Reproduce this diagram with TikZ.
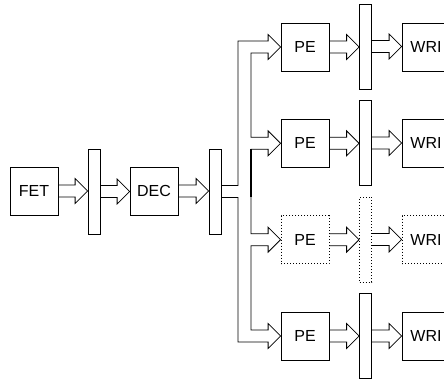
\documentclass[tikz,border=0pt]{standalone}
\usepackage{fontspec}
\setmainfont{Liberation Sans}
\usetikzlibrary{calc}
\tikzset{
  blk/.style={draw=black, line width=0.8pt, minimum width=48pt, minimum height=48pt, inner sep=0pt, font=\fontsize{16}{19}\selectfont},
  reg/.style={draw=black, line width=0.8pt, minimum width=12pt, minimum height=85pt, inner sep=0pt},
  ghost/.style={dash pattern=on 1pt off 2pt},
  fat/.style={draw=black, line width=0.8pt, line join=miter},
}
\newcommand{\fatarr}[2]{%
  \draw[fat] let \p1=(#1.east), \p2=(#2.west) in
    (\x1,\y1+6) -- (\x2-12.5,\y1+6) -- (\x2-12.5,\y1+12.5) -- (\x2,\y1)
    -- (\x2-12.5,\y1-12.5) -- (\x2-12.5,\y1-6) -- (\x1,\y1-6);}
\begin{document}
\begin{tikzpicture}[x=1pt,y=1pt]
\useasboundingbox (0,0) rectangle (444,-379);
\clip (0,0) rectangle (444,-379);
% main chain
\node[blk] (fet) at (34,-191) {FET};
\node[reg] (r1) at (94,-191.5) {};
\node[blk] (dec) at (154,-191) {DEC};
\node[reg] (r2) at (215,-191.5) {};
% PE rows
\node[blk] (pe1) at (305,-47) {PE};
\node[blk] (pe2) at (305,-143.3) {PE};
\node[blk,ghost] (pe3) at (305,-239.7) {PE};
\node[blk] (pe4) at (305,-336) {PE};
\node[reg] (q1) at (365.5,-46.5) {};
\node[reg] (q2) at (365.5,-143) {};
\node[reg,ghost] (q3) at (365.5,-239.5) {};
\node[reg] (q4) at (365.5,-336) {};
\node[blk] (w1) at (426,-47) {WRI};
\node[blk] (w2) at (426,-143.3) {WRI};
\node[blk,ghost] (w3) at (426,-239.7) {WRI};
\node[blk] (w4) at (426,-336) {WRI};
% straight fat arrows
\fatarr{fet}{r1}
\fatarr{r1}{dec}
\fatarr{dec}{r2}
\fatarr{pe1}{q1}\fatarr{q1}{w1}
\fatarr{pe2}{q2}\fatarr{q2}{w2}
\fatarr{pe3}{q3}\fatarr{q3}{w3}
\fatarr{pe4}{q4}\fatarr{q4}{w4}
% branching fat arrow
\coordinate (ox) at (238,0);
\coordinate (ix) at (251,0);
\draw[fat]
  ($(r2.east)+(0,6)$) -| ($(ox|-pe1.west)+(0,6)$)
  -- ($(pe1.west)+(-12.5,6)$) -- ++(0,6.5) -- (pe1.west) -- ++(-12.5,-12.5) -- ++(0,6.5)
  -- ($(ix|-pe1.west)+(0,-6)$) -- ($(ix|-pe2.west)+(0,6)$)
  -- ($(pe2.west)+(-12.5,6)$) -- ++(0,6.5) -- (pe2.west) -- ++(-12.5,-12.5) -- ++(0,6.5)
  -- ($(ix|-pe2.west)+(0,-6)$) -- ($(ix|-pe3.west)+(0,6)$)
  -- ($(pe3.west)+(-12.5,6)$) -- ++(0,6.5) -- (pe3.west) -- ++(-12.5,-12.5) -- ++(0,6.5)
  -- ($(ix|-pe3.west)+(0,-6)$) -- ($(ix|-pe4.west)+(0,6)$)
  -- ($(pe4.west)+(-12.5,6)$) -- ++(0,6.5) -- (pe4.west) -- ++(-12.5,-12.5) -- ++(0,6.5)
  -- ($(ox|-pe4.west)+(0,-6)$) -- ($(ox|-r2.east)+(0,-6)$) -- ($(r2.east)+(0,-6)$);
\draw[line width=1.6pt] ($(ix|-pe2.west)+(0,-6)$) -- ($(ix|-r2.east)+(0,-6)$);
\end{tikzpicture}
\end{document}
